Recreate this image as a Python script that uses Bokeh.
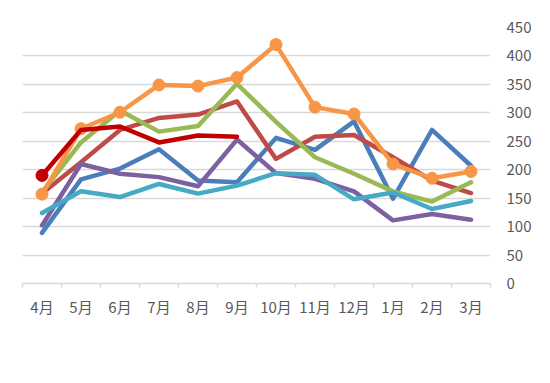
from bokeh.plotting import figure
from bokeh.models import (Range1d, FactorRange, LinearAxis,
                          FixedTicker, Legend, LegendItem)
from bokeh.embed import file_html
from bokeh.resources import INLINE

months = ["4月", "5月", "6月", "7月", "8月", "9月", "10月", "11月", "12月", "1月", "2月", "3月"]
y_ticks = [0, 50, 100, 150, 200, 250, 300, 350, 400, 450]

s2015_16 = [89, 183, 202, 236, 181, 178, 256, 235, 285, 149, 270, 207]
s2016_17 = [158, 213, 270, 291, 297, 320, 219, 258, 261, 222, 181, 159]
s2017_18 = [160, 248, 304, 267, 277, 351, 284, 222, 193, 162, 144, 178]
s2018_19 = [102, 210, 193, 187, 171, 253, 194, 184, 162, 111, 122, 112]
s2019_20 = [124, 162, 152, 175, 158, 172, 194, 191, 148, 160, 131, 145]
s2020_21 = [157, 272, 301, 349, 347, 362, 420, 310, 298, 210, 185, 197]
s2021_22 = [190, 270, 276, 248, 260, 258]

series = [
    ("2015/16", s2015_16, "#4a7ebb"),
    ("2016/17", s2016_17, "#be4b48"),
    ("2017/18", s2017_18, "#98b954"),
    ("2018/19", s2018_19, "#7d60a0"),
    ("2019/20", s2019_20, "#46aac5"),
    ("2020/21", s2020_21, "#f79646"),
    ("2021/22", s2021_22, "#c00000"),
]

FONT = "Noto Sans CJK SC"
TXT = "#595959"

p = figure(x_range=FactorRange(*months), y_range=Range1d(0, 450),
           frame_width=468, frame_height=256,
           min_border_left=22, min_border_top=27, min_border_right=60, min_border_bottom=0,
           x_axis_location=None, y_axis_location="right",
           output_backend="svg", toolbar_location=None)
p.outline_line_color = None
p.background_fill_color = "white"
p.border_fill_color = "white"
for g in p.grid:
    if g.dimension == 0:
        g.visible = False

ya = p.yaxis[0]
ya.ticker = FixedTicker(ticks=y_ticks)
ya.axis_line_color = None
ya.major_tick_line_color = None
ya.minor_tick_line_color = None
ya.major_label_text_font = FONT
ya.major_label_text_font_size = "15px"
ya.major_label_text_color = TXT
ya.major_label_standoff = 10
p.ygrid.grid_line_color = "#d9d9d9"
p.ygrid.grid_line_width = 1.5
p.ygrid.ticker = FixedTicker(ticks=y_ticks)

# month labels at category centres, tick marks at category boundaries
centres = [i + 0.5 for i in range(len(months))]
edges = list(range(len(months) + 1))
x_axis = LinearAxis(ticker=FixedTicker(ticks=centres, minor_ticks=edges),
                    major_label_overrides={c: m for c, m in zip(centres, months)},
                    major_tick_line_color=None, major_tick_in=0, major_tick_out=0,
                    minor_tick_in=0, minor_tick_out=4,
                    minor_tick_line_color="#d9d9d9", minor_tick_line_width=1.5,
                    axis_line_color="#d9d9d9", axis_line_width=1.5,
                    major_label_text_font=FONT, major_label_text_font_size="15px",
                    major_label_text_color=TXT, major_label_standoff=8)
p.add_layout(x_axis, "below")

items = []
for name, vals, color in series:
    xs = months[:len(vals)]
    r = p.line(xs, vals, line_color=color, line_width=4.5, line_join="round", line_cap="round")
    rs = [r]
    if name == "2020/21":
        m = p.scatter(xs, vals, size=12, fill_color=color, line_color=color)
        rs.append(m)
    if name == "2021/22":
        p.scatter(xs[:1], vals[:1], size=12, fill_color=color, line_color=color)
    items.append(LegendItem(label=name, renderers=rs))

# three legend rows of three items each, stacked below the axis
for k in range(0, len(items), 3):
    leg = Legend(items=items[k:k + 3], orientation="horizontal", location=(58, 0),
                 border_line_color=None, background_fill_alpha=0,
                 glyph_width=45, glyph_height=21, label_text_font=FONT,
                 label_text_font_size="15px", label_text_color=TXT,
                 label_standoff=4, label_width=78, spacing=0, padding=0, margin=0,
                 label_height=21)
    p.add_layout(leg, "below")

open("out.html", "w").write(file_html(p, INLINE))
